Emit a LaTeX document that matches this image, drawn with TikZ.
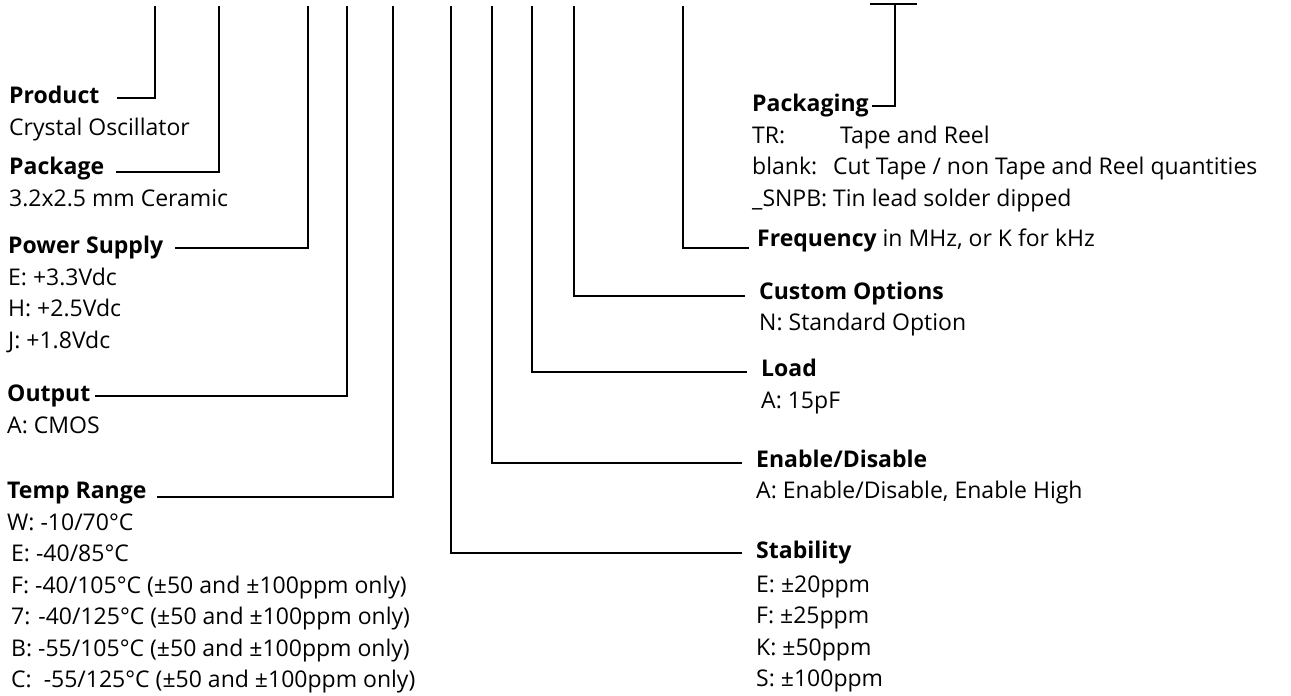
\documentclass[tikz,border=0pt]{standalone}
\usepackage{fontspec}
\setmainfont{Open Sans}
\usetikzlibrary{positioning}

\newcommand{\optrows}[1]{\begin{tabular}[t]{@{}l@{}}#1\end{tabular}}

\begin{document}
\begin{tikzpicture}[
  x=1pt, y=-1pt,
  head/.style={anchor=base west, inner sep=0pt, font=\fontsize{23}{31.5}\selectfont\bfseries},
  body/.style={anchor=base west, inner sep=0pt, font=\fontsize{23}{31.5}\selectfont},
  lead/.style={line width=1.7pt}
]
\useasboundingbox (0,0) rectangle (1291,696);

% tops of the leads
\coordinate (t-prod) at (155,6);
\coordinate (t-pkg) at (219,6);
\coordinate (t-pwr) at (308,6);
\coordinate (t-out) at (347,6);
\coordinate (t-temp) at (393,6);
\coordinate (t-stab) at (451,6);
\coordinate (t-en) at (492,6);
\coordinate (t-load) at (532,6);
\coordinate (t-cust) at (574,6);
\coordinate (t-freq) at (683,6);
\coordinate (t-pack) at (895,4);

% left column
\node[head] (prod) at (9,103) {Product};
\node[body] (prod-b) at ([yshift=-32pt]prod.base west) {Crystal Oscillator};
\node[head] (pkg) at (9,174) {Package};
\node[body] (pkg-b) at ([yshift=-32pt]pkg.base west) {3.2x2.5 mm Ceramic};
\node[head] (pwr) at (8,253) {Power Supply};
\node[body] (pwr-b) at ([yshift=-32pt]pwr.base west) {\optrows{E: +3.3Vdc\\H: +2.5Vdc\\J: +1.8Vdc}};
\node[head] (out) at (7,401) {Output};
\node[body] (out-b) at ([yshift=-32pt]out.base west) {A: CMOS};
\node[head] (temp) at (7,498) {Temp Range};
\node[body] (temp-b) at ([yshift=-32pt]temp.base west) {\optrows{W: -10/70°C\\
  \hspace*{4pt}E: -40/85°C\\
  \hspace*{4pt}F: -40/105°C (±50 and ±100ppm only)\\
  \hspace*{4pt}7: -40/125°C (±50 and ±100ppm only)\\
  \hspace*{4pt}B: -55/105°C (±50 and ±100ppm only)\\
  \hspace*{4pt}C:\ \ -55/125°C (±50 and ±100ppm only)}};

% right column
\node[head] (pack) at (752,111) {Packaging};
\node[body] (pack-b) at ([yshift=-32pt]pack.base west) {\optrows{\makebox[88pt][l]{TR:}Tape and Reel\\
  \makebox[81pt][l]{blank:}Cut Tape / non Tape and Reel quantities\\
  \makebox[81pt][l]{\_SNPB:}Tin lead solder dipped}};
\node[head] (freq) at (757,246) {Frequency \mdseries in MHz, or K for kHz};
\node[head] (cust) at (759,299) {Custom Options};
\node[body] (cust-b) at ([yshift=-31pt]cust.base west) {N: Standard Option};
\node[head] (load) at (761,376) {Load};
\node[body] (load-b) at ([yshift=-32pt]load.base west) {A: 15pF};
\node[head] (en) at (756,467) {Enable/Disable};
\node[body] (en-b) at ([yshift=-31pt]en.base west) {A: Enable/Disable, Enable High};
\node[head] (stab) at (756,558) {Stability};
\node[body] (stab-b) at ([yshift=-34pt]stab.base west) {\optrows{E: ±20ppm\\F: ±25ppm\\K: ±50ppm\\S: ±100ppm}};

% leads
\draw[lead] (t-prod) |- ([xshift=17pt,yshift=5pt]prod.base east);
\draw[lead] (t-pkg) |- ([xshift=12pt,yshift=2pt]pkg.base east);
\draw[lead] (t-pwr) |- ([xshift=12pt,yshift=5pt]pwr.base east);
\draw[lead] (t-out) |- ([xshift=5pt,yshift=5pt]out.base east);
\draw[lead] (t-temp) |- ([xshift=10pt,yshift=1pt]temp.base east);
\draw[lead] (t-stab) |- ([xshift=-14pt,yshift=5pt]stab.base west);
\draw[lead] (t-en) |- ([xshift=-14pt,yshift=4pt]en.base west);
\draw[lead] (t-load) |- ([xshift=-14pt,yshift=4pt]load.base west);
\draw[lead] (t-cust) |- ([xshift=-14pt,yshift=3pt]cust.base west);
\draw[lead] (t-freq) |- ([xshift=-8pt,yshift=-2pt]freq.base west);
\draw[lead] ([xshift=-25pt]t-pack) -- ([xshift=22pt]t-pack);
\draw[lead] (t-pack) |- ([xshift=3pt,yshift=5pt]pack.base east);
\end{tikzpicture}
\end{document}
